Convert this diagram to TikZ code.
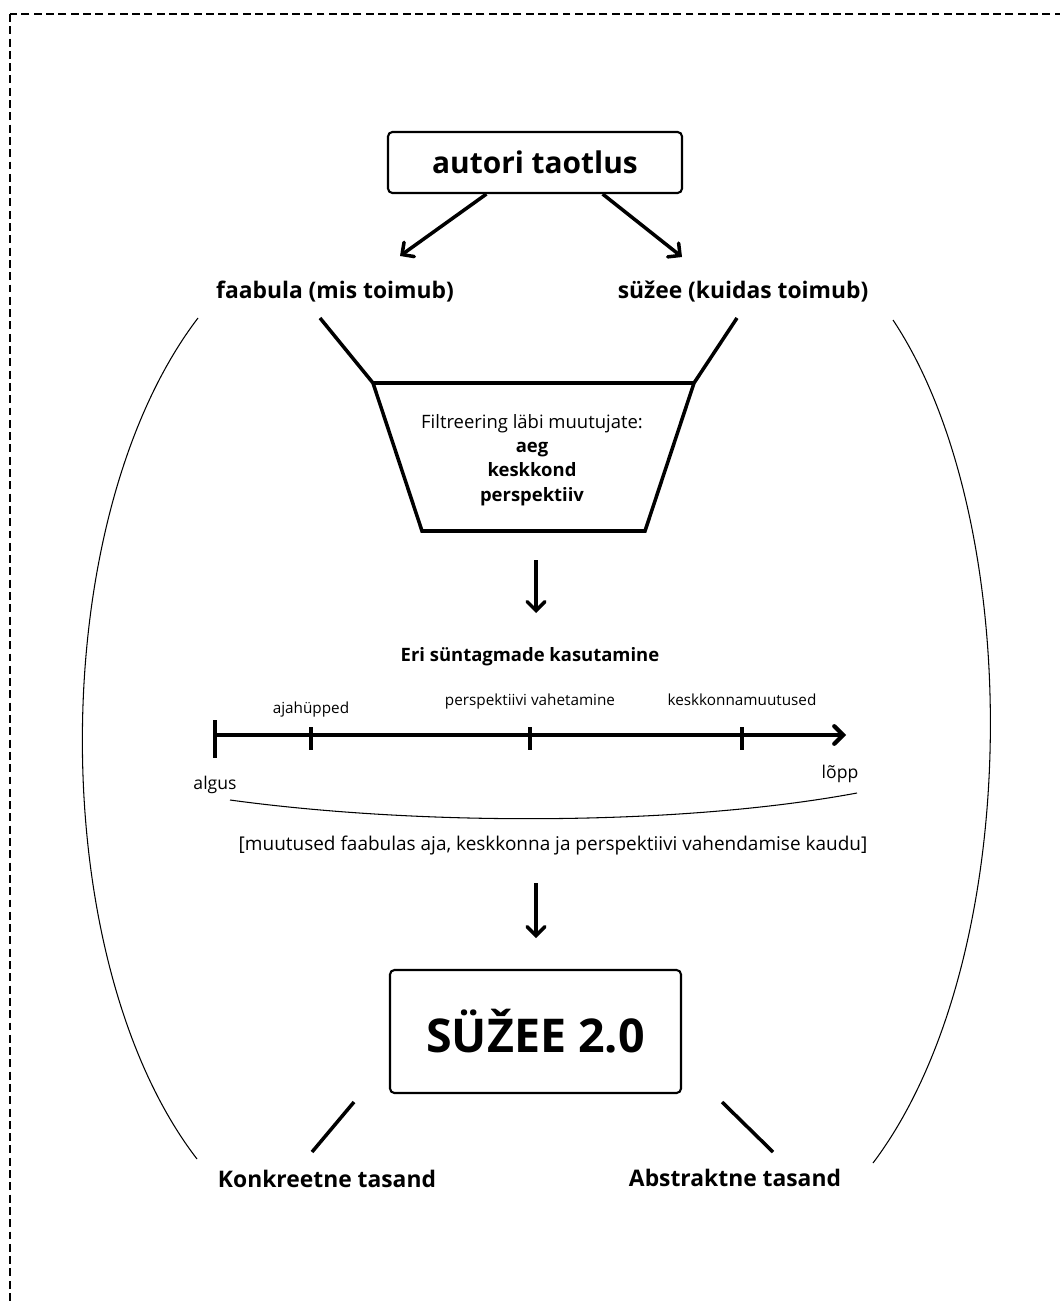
\documentclass[tikz,border=0pt]{standalone}
\usepackage{fontspec}
\setmainfont{Open Sans}
\usetikzlibrary{arrows.meta}

\begin{document}
\begin{tikzpicture}[x=0.02cm,y=-0.02cm,
		box/.style={draw,line width=1.2pt,rounded corners=2.5pt,inner sep=0pt},
		arr/.style={line width=2pt,-{Straight Barb[length=5pt,width=10pt,line cap=round]}},
		bar/.style={line width=2pt},
		arcline/.style={line width=0.6pt},
		big/.style={font=\fontsize{13}{15}\selectfont\bfseries,anchor=base},
		body/.style={font=\fontsize{10.5}{13.8}\selectfont,anchor=base},
		small/.style={font=\fontsize{8.7}{10}\selectfont,anchor=base}]
		% frame
		\useasboundingbox (0,0) rectangle (1060,1304);
		\clip (0,0) rectangle (1060,1304);
		\draw [line width=0.9pt,dash pattern=on 4.5pt off 2.5pt] (10,14) rectangle (1075,1320);

		% top box and the two branches
		\node [box,minimum width=5.88cm,minimum height=1.22cm,font=\fontsize{17}{20}\selectfont\bfseries] (taotlus) at (535,162.5) {autori taotlus};
		\node [big] (faabula) at (335,298) {faabula (mis toimub)};
		\node [big] (syzee) at (743,298) {süžee (kuidas toimub)};
		\coordinate (fabtip) at (400,256);
		\coordinate (syztip) at (682,257);
		\draw [arr] (taotlus.213) -- (fabtip);
		\draw [arr] (taotlus.335) -- (syztip);

		% funnel
		\coordinate (fabfoot) at (320,318);
		\coordinate (syzfoot) at (737,318);
		\coordinate (ftl) at (373,383);
		\coordinate (ftr) at (694,383);
		\coordinate (fbl) at (422,531);
		\coordinate (fbr) at (645,531);
		\draw [bar] (fabfoot) -- (ftl) -- (fbl) -- (fbr) -- (ftr) -- (syzfoot);
		\draw [bar] (ftl) -- (ftr);
		\node [font=\fontsize{10.5}{13.8}\selectfont,align=center] (filter) at (532,460)
			{Filtreering läbi muutujate:\\ \textbf{aeg}\\ \textbf{keskkond}\\ \textbf{perspektiiv}};

		% first arrow down
		\coordinate (down1) at (536,560);
		\coordinate (down1tip) at (536,613);
		\draw [arr] (down1) -- (down1tip);
		\node [body,font=\fontsize{10.5}{13.3}\selectfont\bfseries] (eri) at (530,661) {Eri süntagmade kasutamine};

		% time line
		\coordinate (algpunkt) at (215,735);
		\coordinate (lopppunkt) at (846,735);
		\draw [arr,line width=2.4pt] (algpunkt) -- (lopppunkt);
		\draw [bar,line width=2.4pt] (215,720) -- (215,758);
		\foreach \x/\txt/\yb in {311/ajahüpped/713,530/perspektiivi vahetamine/705,742/keskkonnamuutused/705} {
			\draw [bar,line width=2.4pt] (\x,727) -- (\x,750);
			\node [small] (mark\x) at (\x,\yb) {\txt};
		}
		\node [body,font=\fontsize{10}{12}\selectfont] (algus) at (215,789) {algus};
		\node [body,font=\fontsize{10}{12}\selectfont] (lopp) at (840,778) {lõpp};
		\draw [arcline] (230,800) .. controls (420,826) and (680,826) .. (857,793);
		\node [body,font=\fontsize{10.8}{13}\selectfont] (kaudu) at (553,850) {[muutused faabulas aja, keskkonna ja perspektiivi vahendamise kaudu]};

		% second arrow down and result
		\coordinate (down2) at (536,883);
		\coordinate (down2tip) at (536,938);
		\draw [arr] (down2) -- (down2tip);
		\node [box,minimum width=5.82cm,minimum height=2.46cm,font=\fontsize{26.5}{30}\selectfont\bfseries] (syzee2) at (535.5,1031.5) {SÜŽEE 2.0};

		% two levels
		\coordinate (konkrtop) at (354,1102);
		\coordinate (konkrfoot) at (312,1152);
		\coordinate (abstrtop) at (722,1102);
		\coordinate (abstrfoot) at (773,1152);
		\draw [bar] (konkrtop) -- (konkrfoot);
		\draw [bar] (abstrtop) -- (abstrfoot);
		\node [big] (konkreetne) at (327,1187) {Konkreetne tasand};
		\node [big] (abstraktne) at (735,1186) {Abstraktne tasand};

		% outer arcs
		\draw [arcline] (198,318) .. controls (44,520) and (44,960) .. (197,1159);
		\draw [arcline] (893,320) .. controls (1026,520) and (1026,960) .. (873,1163);
	\end{tikzpicture}
\end{document}
